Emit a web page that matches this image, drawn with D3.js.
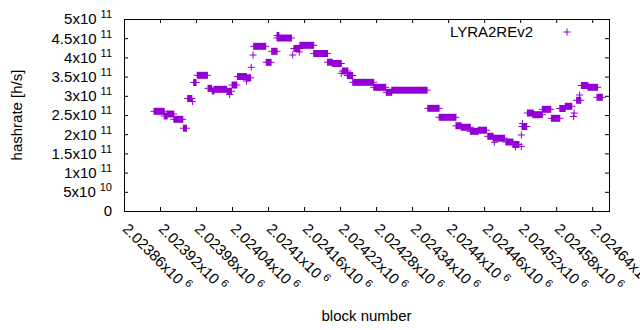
<!DOCTYPE html>
<html>
<head>
<meta charset="utf-8">
<script src="https://cdn.jsdelivr.net/npm/d3@7"></script>
<style>
  html, body { margin: 0; padding: 0; background: #fff; }
  svg { display: block; font-family: "Liberation Sans", Arial, sans-serif; }
</style>
</head>
<body>
<svg id="chart" width="640" height="330"></svg>
<script>
// ============= Data =============

// runs of consecutive blocks with the same hashrate (start block, end block, h/s)
const runStart = [
  2023910, 2023927, 2023932, 2023943, 2023959, 2023966, 2023974, 2023976, 2023982, 2024000,
  2024007, 2024010, 2024032, 2024036, 2024040, 2024049, 2024064, 2024064, 2024072, 2024075,
  2024076, 2024097, 2024106, 2024115, 2024115, 2024141, 2024143, 2024152, 2024153, 2024176,
  2024199, 2024207, 2024222, 2024224, 2024232, 2024241, 2024276, 2024297, 2024306, 2024366,
  2024385, 2024413, 2024422, 2024437, 2024450, 2024466, 2024475, 2024477, 2024496, 2024508,
  2024512, 2024522, 2024522, 2024523, 2024524, 2024532, 2024541, 2024557, 2024572, 2024586,
  2024595, 2024609, 2024610, 2024614, 2024619, 2024622, 2024633, 2024648,
];
const runEnd = [
  2023927, 2023932, 2023943, 2023958, 2023964, 2023973, 2023974, 2023980, 2023999, 2024006,
  2024010, 2024031, 2024039, 2024036, 2024048, 2024064, 2024071, 2024064, 2024072, 2024075,
  2024096, 2024105, 2024115, 2024139, 2024118, 2024141, 2024153, 2024152, 2024176, 2024199,
  2024207, 2024222, 2024222, 2024233, 2024241, 2024276, 2024296, 2024306, 2024365, 2024385,
  2024413, 2024422, 2024437, 2024450, 2024464, 2024475, 2024494, 2024477, 2024508, 2024518,
  2024512, 2024522, 2024522, 2024531, 2024524, 2024542, 2024557, 2024571, 2024586, 2024595,
  2024606, 2024609, 2024610, 2024621, 2024619, 2024633, 2024649, 2024657,
];
const hashrate = [
  259.6e9, 247.4e9, 252.6e9, 238.8e9, 215.6e9, 292.9e9, 285.1e9, 334.6e9, 353.4e9, 319.5e9,
  312.5e9, 316.9e9, 311.7e9, 303.4e9, 328.1e9, 350.2e9, 346.9e9, 338.5e9, 374.2e9, 406.2e9,
  428.9e9, 387.2e9, 415.9e9, 450.5e9, 457.0e9, 406.2e9, 423.2e9, 414.0e9, 431.5e9, 410.1e9,
  387.5e9, 384.1e9, 358.6e9, 364.6e9, 352.8e9, 335.1e9, 322.1e9, 309.1e9, 314.6e9, 267.4e9,
  244.0e9, 221.9e9, 218.0e9, 207.5e9, 210.4e9, 194.5e9, 189.6e9, 178.9e9, 179.7e9, 173.4e9,
  166.7e9, 197.9e9, 168.0e9, 220.0e9, 227.9e9, 255.2e9, 250.8e9, 264.8e9, 241.4e9, 266.9e9,
  272.6e9, 246.1e9, 255.2e9, 288.3e9, 302.1e9, 326.8e9, 322.1e9, 296.1e9,
];

const xDomain = [2023860, 2024668];
const yDomain = [0, 5e11];

const xTicks = [
  2023860, 2023920, 2023980, 2024040, 2024100, 2024160, 2024220,
  2024280, 2024340, 2024400, 2024460, 2024520, 2024580, 2024640,
];
const xTickLabels = [
  "2.02386x10", "2.02392x10", "2.02398x10", "2.02404x10", "2.0241x10", "2.02416x10", "2.02422x10",
  "2.02428x10", "2.02434x10", "2.0244x10", "2.02446x10", "2.02452x10", "2.02458x10", "2.02464x10",
];
const xTickExponents = ["6", "6", "6", "6", "6", "6", "6", "6", "6", "6", "6", "6", "6", "6"];

const yTicks = [0, 5e10, 1e11, 1.5e11, 2e11, 2.5e11, 3e11, 3.5e11, 4e11, 4.5e11, 5e11];
const yTickLabels = ["0", "5x10", "1x10", "1.5x10", "2x10", "2.5x10", "3x10", "3.5x10", "4x10", "4.5x10", "5x10"];
const yTickExponents = ["", "10", "11", "11", "11", "11", "11", "11", "11", "11", "11"];

const seriesName = "LYRA2REv2";

// ============= Layout =============

const WIDTH = 640;
const HEIGHT = 330;
const MARGIN = { LEFT: 124, TOP: 19, RIGHT: 31, BOTTOM: 119 };
const PLOT_W = WIDTH - MARGIN.LEFT - MARGIN.RIGHT;
const PLOT_H = HEIGHT - MARGIN.TOP - MARGIN.BOTTOM;
const FONT_SIZE = 15;
const SUP_SIZE = 11;
const COLOR = "#9400d3";
const TICK = 4;
const ARM = 3.5;

const svg = d3.select("#chart");
const g = svg.append("g").attr("transform", `translate(${MARGIN.LEFT},${MARGIN.TOP})`);

const xScale = d3.scaleLinear().domain(xDomain).range([0, PLOT_W]);
const yScale = d3.scaleLinear().domain(yDomain).range([PLOT_H, 0]);

// ============= Axes =============

const styleAxis = (axis) => {
  axis.select(".domain").remove();
  axis.selectAll("line").attr("stroke", "#000").attr("stroke-width", 1);
  axis.selectAll("text").remove();
};

g.append("g")
  .attr("transform", `translate(0,${PLOT_H})`)
  .call(d3.axisBottom(xScale).tickValues(xTicks).tickSizeInner(-TICK).tickSizeOuter(0))
  .call(styleAxis);
g.append("g")
  .call(d3.axisTop(xScale).tickValues(xTicks).tickSizeInner(-TICK).tickSizeOuter(0))
  .call(styleAxis);
g.append("g")
  .call(d3.axisLeft(yScale).tickValues(yTicks).tickSizeInner(-TICK).tickSizeOuter(0))
  .call(styleAxis);
g.append("g")
  .attr("transform", `translate(${PLOT_W},0)`)
  .call(d3.axisRight(yScale).tickValues(yTicks).tickSizeInner(-TICK).tickSizeOuter(0))
  .call(styleAxis);

g.append("rect")
  .attr("x", 0.5)
  .attr("y", 0.5)
  .attr("width", PLOT_W)
  .attr("height", PLOT_H)
  .attr("fill", "none")
  .attr("stroke", "#000")
  .attr("stroke-width", 1);

// y tick labels with superscript exponent
const yLabels = g.selectAll(".y-label")
  .data(yTicks)
  .enter()
  .append("text")
  .attr("class", "y-label")
  .attr("x", -12)
  .attr("y", (d) => yScale(d))
  .attr("dy", "0.36em")
  .attr("text-anchor", "end")
  .style("font-size", `${FONT_SIZE}px`)
  .attr("fill", "#000");
yLabels.append("tspan").text((d, i) => yTickLabels[i]);
yLabels.filter((d, i) => yTickExponents[i] !== "")
  .append("tspan")
  .attr("dx", 4)
  .attr("dy", -6)
  .style("font-size", `${SUP_SIZE}px`)
  .text((d) => yTickExponents[yTicks.indexOf(d)]);

// x tick labels, rotated
const xLabels = g.selectAll(".x-label")
  .data(xTicks)
  .enter()
  .append("text")
  .attr("class", "x-label")
  .attr("transform", (d) => `translate(${xScale(d) + 1.5},${PLOT_H + 15}) rotate(45)`)
  .attr("dy", "0.36em")
  .attr("text-anchor", "start")
  .style("font-size", `${FONT_SIZE}px`)
  .attr("fill", "#000");
xLabels.append("tspan").text((d, i) => xTickLabels[i]);
xLabels.append("tspan")
  .attr("dx", 4)
  .attr("dy", -6)
  .style("font-size", `${SUP_SIZE}px`)
  .text((d, i) => xTickExponents[i]);

// axis titles
svg.append("text")
  .attr("transform", `translate(17,${MARGIN.TOP + PLOT_H / 2}) rotate(-90)`)
  .attr("dy", "0.36em")
  .attr("text-anchor", "middle")
  .style("font-size", `${FONT_SIZE}px`)
  .text("hashrate [h/s]");

svg.append("text")
  .attr("x", MARGIN.LEFT + PLOT_W / 2)
  .attr("y", 316)
  .attr("dy", "0.36em")
  .attr("text-anchor", "middle")
  .style("font-size", `${FONT_SIZE}px`)
  .text("block number");

// ============= Points =============

// every run is drawn as overlapping "+" marks: one horizontal stroke and a
// solid band made by the vertical arms
const runs = runStart.map((start, i) => ({ start, end: runEnd[i], value: hashrate[i] }));

const marks = g.append("g").attr("class", "points");

marks.selectAll(".run-h")
  .data(runs)
  .enter()
  .append("line")
  .attr("class", "run-h")
  .attr("x1", (d) => xScale(d.start) - ARM)
  .attr("x2", (d) => xScale(d.end) + ARM)
  .attr("y1", (d) => yScale(d.value))
  .attr("y2", (d) => yScale(d.value))
  .attr("stroke", COLOR)
  .attr("stroke-width", 1);

marks.selectAll(".run-v")
  .data(runs)
  .enter()
  .append("rect")
  .attr("class", "run-v")
  .attr("x", (d) => xScale(d.start) - 0.5)
  .attr("width", (d) => xScale(d.end) - xScale(d.start) + 1)
  .attr("y", (d) => yScale(d.value) - ARM)
  .attr("height", ARM * 2)
  .attr("fill", COLOR);

// ============= Legend =============

const legend = g.append("g").attr("transform", `translate(0,${32 - MARGIN.TOP})`);
legend.append("text")
  .attr("x", 533 - MARGIN.LEFT)
  .attr("dy", "0.36em")
  .attr("text-anchor", "end")
  .style("font-size", `${FONT_SIZE}px`)
  .text(seriesName);
legend.append("path")
  .attr("d", `M${567 - MARGIN.LEFT - ARM},0H${567 - MARGIN.LEFT + ARM}M${567 - MARGIN.LEFT},${-ARM}V${ARM}`)
  .attr("stroke", COLOR)
  .attr("stroke-width", 1)
  .attr("fill", "none");
</script>
</body>
</html>
